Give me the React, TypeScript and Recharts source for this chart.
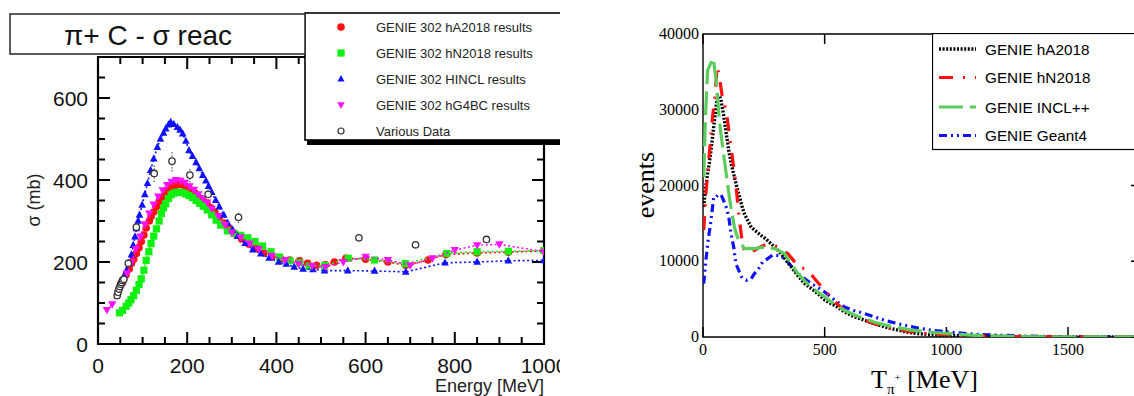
import React from 'react';
import {
  ScatterChart,
  Scatter,
  LineChart,
  Line,
  XAxis,
  YAxis,
  ErrorBar,
  ReferenceArea,
  ReferenceLine,
  Legend,
} from 'recharts';

// ---------------- LEFT PANEL DATA (sigma reac, pi+ C) ----------------
const hA2018Energy = [48,55,63,70,75,80,86,92,97,103,108,115,119,125,131,137,143,150,157,163,170,177,183,190,197,203,210,217,223,230,237,245,253,262,272,283,295,308,322,338,355,372,390,410,430,452,470,490,510,530,556,600,650,690,740,780,850,920,1000];
const hA2018Sigma = [136,150,169,183,197,207,221,235,250,266,283,300,311,322,335,347,358,368,376,382,386,388,389,388,384,380,375,369,362,355,348,340,332,322,310,295,282,268,256,244,233,222,213,208,205,203,197,192,193,200,209,207,200,192,205,218,222,224,227];

const hN2018Energy = [48,55,63,69,74,80,86,92,97,103,108,114,119,125,131,137,142,147,152,158,164,170,176,183,190,197,204,212,220,228,236,245,255,265,275,290,305,320,336,352,369,388,407,430,452,474,508,561,620,689,782,850,920,1000];
const hN2018Sigma = [76,82,92,100,108,118,131,145,159,180,204,225,245,263,281,300,318,332,342,355,364,368,370,370,369,366,362,357,350,343,336,327,315,302,290,276,270,265,259,250,239,225,212,203,198,190,191,209,205,196,221,225,226,228];

const hinclEnergy = [44,51,58,64,70,75,79,83,86,90,93,99,105,111,118,125,133,140,147,152,158,163,170,178,184,190,197,204,212,220,227,235,242,248,255,264,272,282,291,302,313,330,347,365,384,405,422,440,460,482,508,560,620,690,778,850,920,1000];
const hinclSigma = [127,145,164,180,197,218,241,262,282,300,315,339,365,392,424,452,480,500,515,525,535,541,536,529,522,513,495,472,458,443,428,412,398,385,370,351,335,315,295,278,263,246,230,220,210,200,195,188,183,182,179,179,178,176,198,200,203,204];

const hG4BCEnergy = [20,32,45,55,65,75,85,95,105,115,125,135,145,155,165,175,185,195,205,215,225,235,245,255,270,285,300,320,340,360,390,420,450,480,510,550,600,650,700,750,800,850,900,1000];
const hG4BCSigma = [83,97,125,145,172,200,232,262,292,318,340,360,375,388,396,400,398,393,385,376,365,355,345,330,312,290,272,260,245,232,215,205,195,190,188,200,213,205,192,209,229,241,243,225];

const dataEnergy = [43,45,47,49,51,53,55,58,68,86,126,166,206,247,315,585,712,871];
const dataSigma = [118,126,134,140,146,150,155,158,197,285,416,446,412,365,309,259,242,255];
const dataErr = [8,8,8,8,8,8,8,8,10,12,20,25,18,15,14,0,0,0];

const leftXTicks = [0,50,100,150,200,250,300,350,400,450,500,550,600,650,700,750,800,850,900,950,1000];
const leftYTicks = [0,50,100,150,200,250,300,350,400,450,500,550,600,650,700];
const leftTitle = 'π+ C - σ reac';
const leftLegendLabels = [
  'GENIE 302 hA2018 results',
  'GENIE 302 hN2018 results',
  'GENIE 302 HINCL results',
  'GENIE 302 hG4BC results',
  'Various Data',
];

// ---------------- RIGHT PANEL DATA (events vs T_pi+) ----------------
const rhAEnergy = [3,10,19,26,33,40,47,54,60,67,74,81,88,98,108,118,129,140,150,160,170,185,198,220,239,260,280,300,321,342,363,390,418,445,473,500,527,555,582,620,665,705,747,790,830,880,940,1000,1100,1200,1300,1400,1600,1800];
const rhAEvents = [17200,19500,21600,23000,24700,26600,28600,30500,31900,31900,31300,30000,28600,26300,24200,22600,21100,19700,18500,17300,16300,15300,14500,13900,13400,12900,12300,11700,11000,10100,9250,8100,7050,6400,5700,4900,4400,3900,3300,2700,2200,1750,1320,1000,700,450,300,220,130,70,40,20,10,5];

const rhNEnergy = [3,12,26,40,49,58,67,81,95,105,115,126,136,143,150,157,163,170,184,198,212,230,250,270,294,320,349,370,390,405,418,438,459,480,500,540,582,620,665,705,747,790,850,920,1000,1100,1200,1300,1400,1600,1800];
const rhNEvents = [14100,18900,24200,29300,31700,35700,34400,31300,30000,27500,25100,22400,19800,17500,15400,13600,11900,11500,11100,11200,11450,11800,12100,12200,12100,11600,11000,10200,9300,9100,9030,8500,7700,6900,6170,4700,3520,2900,2200,1750,1300,1050,700,450,300,150,80,40,20,10,5];

const rInclEnergy = [3,10,19,30,42,47,54,60,67,74,81,88,98,108,118,129,140,150,157,170,185,212,253,294,335,362,390,418,445,473,500,540,582,620,665,705,747,788,850,926,1000,1100,1200,1300,1400,1600,1800];
const rInclEvents = [21100,29000,35200,36000,36800,35600,33900,31500,28600,26800,25000,23350,20900,18500,16500,14540,13300,12600,12330,11670,11700,11670,11890,11670,11010,9700,8370,7400,6610,5900,5290,4300,3520,2950,2420,1950,1600,1320,950,660,480,250,120,60,30,15,8];

const rG4Energy = [3,8,12,20,33,44,54,64,74,85,95,106,115,126,135,147,157,167,180,198,212,225,245,266,285,301,318,335,362,390,418,445,473,500,540,582,620,665,705,747,790,830,880,940,1000,1100,1200,1300,1400,1500,1600,1800];
const rG4Events = [7050,8800,10130,12500,15420,18500,18500,18800,18800,18000,17180,15860,13660,11900,9700,8800,8000,7700,7490,7700,8400,8810,9900,10350,10800,10790,10700,10350,9400,8370,7700,7050,6500,5950,4900,3960,3500,3080,2650,2200,1850,1540,1200,880,700,400,250,150,80,40,20,5];

const rightXTicks = [0,500,1000,1500];
const rightYTicks = [0,10000,20000,30000,40000];
const rightLegendLabels = ['GENIE hA2018', 'GENIE hN2018', 'GENIE INCL++', 'GENIE Geant4'];

// ---------------- helpers ----------------
const zip = (xs: number[], ys: number[]) => xs.map((x, i) => ({ x, y: ys[i] }));
const zipErr = (xs: number[], ys: number[], es: number[]) => xs.map((x, i) => ({ x, y: ys[i], err: es[i] }));

const SANS = "'Liberation Sans', Arial, Helvetica, sans-serif";
const SERIF = "'Liberation Serif', 'Times New Roman', Times, serif";

const RED = '#ff1010';
const GREEN = '#10f010';
const BLUE = '#1010ff';
const MAGENTA = '#ff10ff';

// left plot frame (chart coords = page coords, chart at x=0)
const LP = { top: 57, bottom: 344, left: 98, right: 544 };
const L_XMAX = 1000;
const L_YMAX = 700;
// right plot frame (chart coords, chart at page x=560)
const RP = { top: 34, bottom: 337, left: 143, right: 581 };
const R_XMAX = 1800;
const R_YMAX = 40000;

// tick lengths converted from pixels into axis units
const lxLen = (px: number) => (px * L_XMAX) / (LP.right - LP.left);
const lyLen = (px: number) => (px * L_YMAX) / (LP.bottom - LP.top);
const rxLen = (px: number) => (px * R_XMAX) / (RP.right - RP.left);
const ryLen = (px: number) => (px * R_YMAX) / (RP.bottom - RP.top);

// ---------------- shapes ----------------
const circleShape = (props: any) => {
  const { cx, cy } = props;
  if (cx == null || cy == null) return <g />;
  return <circle cx={cx} cy={cy} r={3.8} fill={RED} />;
};
const squareShape = (props: any) => {
  const { cx, cy } = props;
  if (cx == null || cy == null) return <g />;
  return <rect x={cx - 3.6} y={cy - 3.6} width={7.2} height={7.2} fill={GREEN} />;
};
const triUpShape = (props: any) => {
  const { cx, cy } = props;
  if (cx == null || cy == null) return <g />;
  return <polygon points={`${cx},${cy - 4.4} ${cx - 3.8},${cy + 2.8} ${cx + 3.8},${cy + 2.8}`} fill={BLUE} />;
};
const triDownShape = (props: any) => {
  const { cx, cy } = props;
  if (cx == null || cy == null) return <g />;
  return <polygon points={`${cx},${cy + 4.4} ${cx - 4.2},${cy - 3} ${cx + 4.2},${cy - 3}`} fill={MAGENTA} />;
};
const openCircleShape = (props: any) => {
  const { cx, cy } = props;
  if (cx == null || cy == null) return <g />;
  return <circle cx={cx} cy={cy} r={3.2} fill="#fff" stroke="#333" strokeWidth={1.3} />;
};

// ---------------- tick labels ----------------
const LeftXTick = (props: any) => {
  const { x, payload } = props;
  const v = payload.value;
  if (v % 200 !== 0) return <g />;
  return (
    <text x={x} y={373} textAnchor="middle" fontSize={21} fill="#111" fontFamily={SANS}>
      {v}
    </text>
  );
};
const LeftYTick = (props: any) => {
  const { y, payload } = props;
  const v = payload.value;
  if (v % 200 !== 0) return <g />;
  return (
    <text x={88} y={y} dy="0.36em" textAnchor="end" fontSize={21} fill="#111" fontFamily={SANS}>
      {v}
    </text>
  );
};
const RightXTick = (props: any) => {
  const { x, payload } = props;
  return (
    <text x={x} y={355} textAnchor="middle" fontSize={16} fill="#000" fontFamily={SERIF}>
      {payload.value}
    </text>
  );
};
const RightYTick = (props: any) => {
  const { y, payload } = props;
  return (
    <text x={139} y={y} dy="0.32em" textAnchor="end" fontSize={16} fill="#000" fontFamily={SERIF}>
      {payload.value}
    </text>
  );
};

// ---------------- legends ----------------
const leftMarkers = [
  (x: number, y: number) => <circle cx={x} cy={y} r={3.8} fill={RED} />,
  (x: number, y: number) => <rect x={x - 3.6} y={y - 3.6} width={7.2} height={7.2} fill={GREEN} />,
  (x: number, y: number) => <polygon points={`${x},${y - 4} ${x - 3.5},${y + 2.6} ${x + 3.5},${y + 2.6}`} fill={BLUE} />,
  (x: number, y: number) => <polygon points={`${x},${y + 4} ${x - 3.8},${y - 2.8} ${x + 3.8},${y - 2.8}`} fill={MAGENTA} />,
  (x: number, y: number) => <circle cx={x} cy={y} r={3} fill="#fff" stroke="#333" strokeWidth={1.2} />,
];

const LeftLegendBox = () => (
  <svg width={262} height={134} style={{ display: 'block' }}>
    <rect x={3} y={3} width={258} height={130} fill="#000" />
    <rect x={1} y={1} width={257} height={127} fill="#fff" stroke="#000" strokeWidth={1.6} />
    {leftLegendLabels.map((label, i) => {
      const cy = 15 + i * 26;
      return (
        <g key={label}>
          {leftMarkers[i](37, cy)}
          <text x={72} y={cy} dy="0.36em" fontSize={13} fill="#222" fontFamily={SANS}>
            {label}
          </text>
        </g>
      );
    })}
  </svg>
);

const rightStyles = [
  { stroke: '#000', dash: '2 1.6', width: 3.4 },
  { stroke: RED, dash: '14 10 2 10', width: 3.2 },
  { stroke: '#5ccc5c', dash: '24 7', width: 3.2 },
  { stroke: BLUE, dash: '8 4 2 4 2 4', width: 3.2 },
];

const RightLegendBox = () => (
  <svg width={240} height={118} style={{ display: 'block' }}>
    <rect x={0.5} y={0.5} width={238} height={116} fill="#fff" stroke="#000" strokeWidth={1.2} />
    {rightLegendLabels.map((label, i) => {
      const cy = [16, 44.5, 74, 102.5][i];
      const s = rightStyles[i];
      return (
        <g key={label}>
          <line x1={7} x2={44} y1={cy} y2={cy} stroke={s.stroke} strokeWidth={s.width} strokeDasharray={s.dash} />
          <text x={53} y={cy} dy="0.36em" fontSize={15.3} fill="#000" fontFamily={SANS}>
            {label}
          </text>
        </g>
      );
    })}
  </svg>
);

// tick marks drawn through the chart scales
const leftTickMarks = () => {
  const out: any[] = [];
  leftXTicks.forEach((v) => {
    const l = v % 200 === 0 ? 12 : 7;
    out.push(
      <ReferenceLine key={`lxb${v}`} segment={[{ x: v, y: 0 }, { x: v, y: lyLen(l) }]} stroke="#000" strokeWidth={2} ifOverflow="visible" />,
      <ReferenceLine key={`lxt${v}`} segment={[{ x: v, y: L_YMAX }, { x: v, y: L_YMAX - lyLen(l) }]} stroke="#000" strokeWidth={2} ifOverflow="visible" />
    );
  });
  leftYTicks.forEach((v) => {
    const l = v % 200 === 0 ? 12 : 7;
    out.push(
      <ReferenceLine key={`lyl${v}`} segment={[{ x: 0, y: v }, { x: lxLen(l), y: v }]} stroke="#000" strokeWidth={2} ifOverflow="visible" />,
      <ReferenceLine key={`lyr${v}`} segment={[{ x: L_XMAX, y: v }, { x: L_XMAX - lxLen(l), y: v }]} stroke="#000" strokeWidth={2} ifOverflow="visible" />
    );
  });
  return out;
};

const rightTickMarks = () => {
  const out: any[] = [];
  rightXTicks.forEach((v) => {
    out.push(
      <ReferenceLine key={`rxb${v}`} segment={[{ x: v, y: 0 }, { x: v, y: ryLen(10) }]} stroke="#000" strokeWidth={1.5} ifOverflow="visible" />,
      <ReferenceLine key={`rxt${v}`} segment={[{ x: v, y: R_YMAX }, { x: v, y: R_YMAX - ryLen(10) }]} stroke="#000" strokeWidth={1.5} ifOverflow="visible" />
    );
  });
  rightYTicks.forEach((v) => {
    out.push(
      <ReferenceLine key={`ryr${v}`} segment={[{ x: R_XMAX, y: v }, { x: R_XMAX - rxLen(10), y: v }]} stroke="#000" strokeWidth={1.5} ifOverflow="visible" />
    );
  });
  return out;
};

// ---------------- charts ----------------
const LeftChart = () => (
  <div style={{ position: 'absolute', left: 0, top: 0, width: 560, height: 396, overflow: 'hidden' }}>
    <ScatterChart width={560} height={396} margin={{ top: LP.top, right: 560 - LP.right, bottom: 0, left: 0 }}>
      <XAxis
        type="number"
        dataKey="x"
        domain={[0, L_XMAX]}
        ticks={leftXTicks}
        interval={0}
        height={396 - LP.bottom}
        axisLine={false}
        tickLine={false}
        tick={LeftXTick}
        allowDataOverflow
      />
      <YAxis
        type="number"
        dataKey="y"
        domain={[0, L_YMAX]}
        ticks={leftYTicks}
        interval={0}
        width={LP.left}
        axisLine={false}
        tickLine={false}
        tick={LeftYTick}
        allowDataOverflow
      />
      <ReferenceArea x1={0} x2={L_XMAX} y1={0} y2={L_YMAX} fill="none" stroke="#000" strokeWidth={2.2} />
      {leftTickMarks()}
      <Scatter
        name={leftLegendLabels[0]}
        data={zip(hA2018Energy, hA2018Sigma)}
        shape={circleShape}
        line={{ stroke: RED, strokeWidth: 1.6, strokeDasharray: '2 2.5' }}
        isAnimationActive={false}
      />
      <Scatter
        name={leftLegendLabels[1]}
        data={zip(hN2018Energy, hN2018Sigma)}
        shape={squareShape}
        line={{ stroke: GREEN, strokeWidth: 1.6, strokeDasharray: '2 2.5' }}
        isAnimationActive={false}
      />
      <Scatter
        name={leftLegendLabels[2]}
        data={zip(hinclEnergy, hinclSigma)}
        shape={triUpShape}
        line={{ stroke: BLUE, strokeWidth: 1.6, strokeDasharray: '2 2.5' }}
        isAnimationActive={false}
      />
      <Scatter
        name={leftLegendLabels[3]}
        data={zip(hG4BCEnergy, hG4BCSigma)}
        shape={triDownShape}
        line={{ stroke: MAGENTA, strokeWidth: 1.6, strokeDasharray: '2 2.5' }}
        isAnimationActive={false}
      />
      <Scatter
        name={leftLegendLabels[4]}
        data={zipErr(dataEnergy, dataSigma, dataErr)}
        shape={openCircleShape}
        isAnimationActive={false}
      >
        <ErrorBar dataKey="err" direction="y" width={0} stroke="#333" strokeWidth={1.2} strokeDasharray="1.2 1.8" />
      </Scatter>
      <Legend
        layout="horizontal"
        align="center"
        verticalAlign="middle"
        content={() => <LeftLegendBox />}
        wrapperStyle={{ position: 'absolute', left: 304, top: 12, width: 262, height: 134 }}
      />
    </ScatterChart>
    <svg width={560} height={396} style={{ position: 'absolute', left: 0, top: 0, pointerEvents: 'none' }}>
      <rect x={10} y={14} width={295} height={40} fill="#fff" stroke="#333" strokeWidth={1.6} />
      <text x={148} y={45} textAnchor="middle" fontSize={28} fill="#111" fontFamily={SANS}>
        {leftTitle}
      </text>
      <text
        x={34}
        y={200}
        transform="rotate(-90 34 200)"
        textAnchor="middle"
        dominantBaseline="central"
        fontSize={18}
        fill="#222"
        fontFamily={SANS}
      >
        σ (mb)
      </text>
      <text x={LP.right} y={392} textAnchor="end" fontSize={18} fill="#222" fontFamily={SANS}>
        Energy [MeV]
      </text>
    </svg>
  </div>
);

const RightChart = () => (
  <div style={{ position: 'absolute', left: 560, top: 0, width: 600, height: 396 }}>
    <LineChart width={600} height={396} margin={{ top: RP.top, right: 600 - RP.right, bottom: 0, left: 0 }}>
      <XAxis
        type="number"
        dataKey="x"
        domain={[0, R_XMAX]}
        ticks={rightXTicks}
        interval={0}
        height={396 - RP.bottom}
        axisLine={false}
        tickLine={false}
        tick={RightXTick}
        allowDataOverflow
      />
      <YAxis
        type="number"
        domain={[0, R_YMAX]}
        ticks={rightYTicks}
        interval={0}
        width={RP.left}
        axisLine={false}
        tickLine={false}
        tick={RightYTick}
        allowDataOverflow
      />
      <ReferenceArea x1={0} x2={R_XMAX} y1={0} y2={R_YMAX} fill="none" stroke="#000" strokeWidth={1.4} />
      {rightTickMarks()}
      <Line
        data={zip(rG4Energy, rG4Events)}
        dataKey="y"
        name={rightLegendLabels[3]}
        type="linear"
        dot={false}
        stroke={rightStyles[3].stroke}
        strokeWidth={rightStyles[3].width}
        strokeDasharray={rightStyles[3].dash}
        isAnimationActive={false}
      />
      <Line
        data={zip(rhAEnergy, rhAEvents)}
        dataKey="y"
        name={rightLegendLabels[0]}
        type="linear"
        dot={false}
        stroke={rightStyles[0].stroke}
        strokeWidth={rightStyles[0].width}
        strokeDasharray={rightStyles[0].dash}
        isAnimationActive={false}
      />
      <Line
        data={zip(rhNEnergy, rhNEvents)}
        dataKey="y"
        name={rightLegendLabels[1]}
        type="linear"
        dot={false}
        stroke={rightStyles[1].stroke}
        strokeWidth={rightStyles[1].width}
        strokeDasharray={rightStyles[1].dash}
        isAnimationActive={false}
      />
      <Line
        data={zip(rInclEnergy, rInclEvents)}
        dataKey="y"
        name={rightLegendLabels[2]}
        type="linear"
        dot={false}
        stroke={rightStyles[2].stroke}
        strokeWidth={rightStyles[2].width}
        strokeDasharray={rightStyles[2].dash}
        isAnimationActive={false}
      />
      <Legend
        layout="horizontal"
        align="center"
        verticalAlign="middle"
        content={() => <RightLegendBox />}
        wrapperStyle={{ position: 'absolute', left: 372, top: 33, width: 240, height: 118 }}
      />
    </LineChart>
    <svg width={600} height={396} style={{ position: 'absolute', left: 0, top: 0, pointerEvents: 'none' }}>
      <text
        x={85}
        y={185}
        transform="rotate(-90 85 185)"
        textAnchor="middle"
        dominantBaseline="central"
        fontSize={26}
        fill="#000"
        fontFamily={SERIF}
      >
        events
      </text>
      <text x={311} y={388} fontSize={26} fill="#000" fontFamily={SERIF}>
        T
        <tspan fontSize={15} dy={6}>π</tspan>
        <tspan fontSize={11} dy={-13}>+</tspan>
        <tspan fontSize={26} dy={7}> [MeV]</tspan>
      </text>
    </svg>
  </div>
);

export default function App() {
  return (
    <div
      style={{
        position: 'absolute',
        left: 0,
        top: 0,
        width: 1134,
        height: 396,
        overflow: 'hidden',
        background: '#fff',
      }}
    >
      <LeftChart />
      <RightChart />
    </div>
  );
}
